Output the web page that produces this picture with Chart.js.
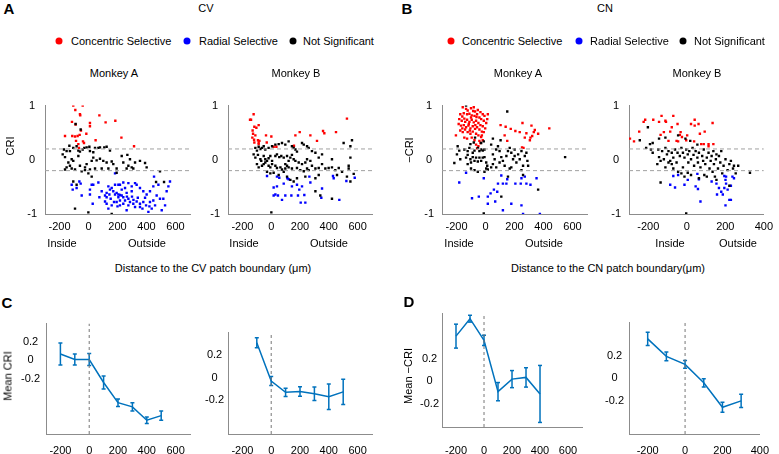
<!DOCTYPE html>
<html><head><meta charset="utf-8">
<script src="https://cdn.jsdelivr.net/npm/chart.js@4"></script>
<style>
html,body{margin:0;padding:0;background:#fff;overflow:hidden;width:779px;height:454px;}
body{position:relative;font-family:"Liberation Sans",Arial,sans-serif;font-size:11px;color:#000;}
.t{position:absolute;white-space:nowrap;line-height:1;z-index:2;}
.dot{position:absolute;width:7px;height:7px;border-radius:50%;transform:translate(-50%,-50%);}
canvas{position:absolute;display:block;z-index:1;}
</style></head><body>
<script>
// ---------------- DATA ----------------
const scatterXTicks = [-200, 0, 200, 400, 600];
const scatterXTicksCNB = [-200, 0, 200, 400];
const scatterYTicks = [-1, 0, 1];
const meanYTicks = [-0.2, 0, 0.2];
const meanXTicks = [-200, 0, 200, 400, 600];
const meanXTicksCNB = [-200, 0, 200, 400];
const thresholds = [0.2, -0.2];

// CV, Monkey A
const cvA_conc = [[-105,1.0],[-40,1.0],[-59,0.84],[-91,0.92],[-57,0.82],[75,0.82],[185,0.72],[118,0.69],[10,0.68],[-114,0.70],[-89,0.65],[10,0.62],[-52,0.54],[-15,0.48],[-61,0.46],[-162,0.44],[-112,0.44],[-93,0.43],[-75,0.44],[49,0.36],[227,0.41],[-86,0.35],[-38,0.34],[-31,0.31],[-70,0.29],[-66,0.22],[314,0.25]];
const cvA_none = [[-89,0.66],[-54,0.56],[-132,0.26],[-169,0.19],[-151,0.16],[-178,0.10],[-162,0.05],[-128,0.16],[-105,0.22],[-82,0.25],[-70,0.17],[-59,0.15],[-40,0.19],[-29,0.22],[-13,0.23],[6,0.24],[10,0.16],[33,0.14],[45,0.22],[68,0.22],[79,0.23],[109,0.23],[125,0.24],[148,0.17],[-70,0.07],[-116,0.01],[-105,-0.02],[-139,-0.05],[-128,-0.11],[-151,-0.14],[-162,-0.18],[-116,-0.16],[-93,-0.18],[-59,-0.11],[-24,-0.14],[-13,-0.08],[22,-0.02],[33,0.04],[56,-0.01],[79,0.02],[102,-0.02],[125,-0.05],[160,-0.03],[171,-0.08],[137,-0.16],[91,-0.16],[45,-0.16],[10,-0.18],[-24,-0.19],[-47,-0.21],[229,0.07],[240,-0.05],[268,0.09],[286,0.01],[275,-0.11],[298,-0.14],[321,-0.05],[355,-0.02],[390,-0.06],[401,-0.14],[309,-0.16],[493,-0.21],[263,-0.16],[194,-0.16],[-1,-0.25],[22,-0.31],[-105,-0.40],[-82,-0.46],[194,-0.24],[466,-0.41],[521,-0.41],[-93,-0.90],[-1,-0.97],[160,-1.0]];
const cvA_rad = [[-116,-0.46],[-109,-0.55],[-82,-0.52],[-54,-0.44],[-47,-0.66],[10,-0.55],[22,-0.46],[33,-0.46],[10,-0.64],[29,-0.81],[68,-0.42],[75,-0.69],[91,-0.58],[114,-0.66],[125,-0.61],[137,-0.49],[148,-0.55],[160,-0.52],[144,-0.64],[171,-0.58],[183,-0.64],[194,-0.61],[206,-0.64],[217,-0.65],[229,-0.66],[240,-0.69],[153,-0.72],[176,-0.78],[194,-0.78],[217,-0.75],[252,-0.75],[275,-0.72],[286,-0.78],[309,-0.81],[332,-0.77],[355,-0.81],[378,-0.78],[397,-0.84],[424,-0.78],[447,-0.75],[470,-0.66],[493,-0.72],[459,-0.84],[436,-0.90],[413,-0.96],[355,-0.87],[321,-0.87],[275,-0.84],[263,-0.93],[240,-0.81],[217,-0.84],[125,-0.81],[137,-0.90],[160,-0.84],[401,-0.64],[424,-0.58],[447,-0.49],[482,-0.46],[539,-0.58],[551,-0.49],[516,-0.72],[528,-0.84],[505,-0.93],[562,-0.40],[452,-0.31],[298,-0.49],[321,-0.43],[332,-0.46],[355,-0.52],[378,-0.58],[240,-0.42],[217,-0.46],[183,-0.25],[206,-0.46],[275,-0.43],[298,-0.58],[263,-0.61],[252,-0.52],[125,-0.69],[114,-0.77],[206,-0.69],[229,-0.55],[183,-0.46],[-63,-0.40],[340,-0.70],[390,-0.70],[300,-0.68],[265,-0.68],[420,-0.86],[372,-0.90],[310,-0.74],[200,-0.86]];

// CV, Monkey B
const cvB_conc = [[-122,0.84],[-140,0.74],[-147,0.74],[-117,0.61],[-103,0.59],[-87,0.64],[-129,0.54],[-126,0.48],[-110,0.45],[-131,0.41],[-119,0.37],[-92,0.36],[-87,0.32],[-82,0.35],[-31,0.32],[-36,0.45],[1,0.43],[17,0.24],[36,0.24],[158,0.26],[168,0.45],[198,0.51],[272,0.45],[318,0.35],[360,0.53],[369,0.49],[450,0.51],[526,0.76],[-117,0.32],[-87,0.29]];
const cvB_none = [[-110,0.22],[-99,0.17],[-87,0.24],[-75,0.20],[-64,0.22],[-52,0.25],[-41,0.19],[-18,0.22],[6,0.25],[29,0.28],[52,0.29],[75,0.31],[98,0.28],[121,0.34],[144,0.25],[156,0.22],[168,0.19],[179,0.15],[214,0.31],[226,0.28],[249,0.25],[260,0.22],[283,0.16],[307,0.13],[330,0.04],[353,0.10],[422,0.01],[503,0.31],[550,0.25],[561,0.36],[550,0.04],[538,-0.11],[-122,0.10],[-110,0.04],[-92,0.09],[-75,0.01],[-69,-0.02],[-52,0.07],[-41,0.01],[-29,-0.02],[-18,0.03],[-6,0.07],[6,-0.02],[29,0.07],[40,0.10],[56,0.05],[70,0.07],[87,0.04],[110,0.07],[133,0.04],[144,0.09],[156,0.01],[168,-0.02],[191,-0.05],[214,-0.08],[237,-0.05],[249,0.01],[272,-0.02],[283,-0.11],[307,-0.16],[330,-0.15],[353,-0.08],[376,-0.16],[399,-0.15],[422,-0.14],[445,-0.19],[469,-0.15],[492,-0.22],[538,-0.16],[573,-0.26],[550,-0.40],[-99,-0.08],[-87,-0.14],[-64,-0.11],[-52,-0.08],[-41,-0.05],[-18,-0.11],[-6,-0.14],[6,-0.08],[29,-0.11],[40,-0.15],[64,-0.14],[75,-0.18],[98,-0.16],[110,-0.11],[121,-0.14],[144,-0.16],[179,-0.15],[202,-0.19],[226,-0.21],[249,-0.16],[260,-0.19],[-29,-0.22],[-6,-0.25],[17,-0.24],[52,-0.28],[87,-0.22],[110,-0.31],[133,-0.37],[156,-0.40],[179,-0.34],[237,-0.31],[307,-0.34],[330,-0.28],[457,-0.28],[526,-0.31],[422,-0.72],[307,-0.58],[341,-0.66],[1,-0.97],[98,-0.08],[121,-0.02]];
const cvB_rad = [[-29,-0.30],[40,-0.31],[56,-0.33],[112,-0.34],[121,-0.36],[87,-0.44],[40,-0.49],[144,-0.49],[179,-0.46],[195,-0.55],[214,-0.49],[265,-0.31],[272,-0.42],[353,-0.53],[348,-0.70],[17,-0.51],[29,-0.64],[17,-0.66],[47,-0.66],[75,-0.74],[98,-0.66],[140,-0.66],[186,-0.66],[230,-0.65],[205,-0.79],[237,-0.79],[429,-0.30],[434,-0.34],[473,-0.74],[522,-0.39],[580,-0.33]];

// CN, Monkey A
const cnA_conc = [[-157,0.97],[-134,0.94],[-123,0.91],[-100,0.95],[-81,0.97],[-72,0.89],[-53,0.92],[-35,0.88],[-19,0.84],[-7,0.81],[-174,0.84],[-150,0.86],[-127,0.84],[-111,0.85],[-95,0.82],[-76,0.81],[-58,0.84],[-42,0.78],[-30,0.75],[-12,0.72],[5,0.68],[-181,0.75],[-164,0.72],[-146,0.76],[-127,0.74],[-111,0.70],[-95,0.74],[-81,0.69],[-65,0.72],[-49,0.68],[-35,0.64],[-19,0.62],[-2,0.58],[-185,0.66],[-169,0.63],[-150,0.64],[-134,0.60],[-118,0.63],[-104,0.58],[-88,0.62],[-72,0.57],[-58,0.60],[-42,0.56],[-25,0.52],[-12,0.51],[-174,0.54],[-157,0.51],[-141,0.56],[-123,0.51],[-104,0.48],[-88,0.52],[-65,0.48],[-49,0.45],[-30,0.42],[-146,0.41],[-127,0.39],[-95,0.41],[-76,0.36],[-42,0.35],[-19,0.36],[-65,0.28],[-49,0.25],[-35,0.31],[-58,0.21],[-25,0.45],[16,0.84],[12,0.75],[-204,0.45],[104,0.64],[139,0.61],[174,0.57],[206,0.53],[236,0.51],[255,0.68],[282,0.49],[317,0.63],[333,0.51],[340,0.55],[310,0.41],[322,0.44],[363,0.48],[440,0.58],[132,0.45],[150,0.35],[306,0.36],[262,0.22],[252,0.23],[271,0.41],[-160,0.80],[-140,0.70],[-100,0.78],[-85,0.90],[-62,0.79],[-115,0.66],[-70,0.64],[-160,0.58],[-108,0.54]];
const cnA_none = [[-134,1.0],[150,0.89],[-72,0.41],[-81,0.32],[-104,0.29],[-192,0.25],[-181,0.17],[-197,0.10],[-174,0.01],[-215,-0.06],[-146,0.19],[-123,0.16],[-111,0.22],[-88,0.13],[-76,0.17],[-53,0.22],[-42,0.16],[-30,0.19],[-19,0.17],[-7,0.19],[-123,0.09],[-134,0.04],[-104,0.01],[-88,0.05],[-76,-0.02],[-100,-0.05],[-65,0.04],[-53,-0.03],[-42,0.04],[-30,-0.02],[-19,0.04],[-7,0.05],[5,-0.05],[12,-0.11],[5,-0.16],[16,-0.18],[-7,-0.22],[-53,-0.22],[-76,-0.19],[-100,-0.16],[-123,-0.08],[39,0.28],[51,0.39],[86,0.25],[74,0.19],[97,0.16],[51,0.10],[63,0.01],[51,-0.08],[74,-0.14],[39,-0.14],[97,-0.05],[109,0.05],[120,-0.02],[132,-0.11],[144,0.07],[155,0.16],[167,0.22],[178,0.13],[190,0.01],[201,0.07],[201,0.19],[213,-0.05],[178,-0.14],[167,-0.16],[225,0.10],[236,0.01],[248,0.16],[259,-0.11],[271,0.07],[282,0.13],[289,-0.02],[248,-0.19],[294,-0.11],[549,0.05],[104,0.36],[-12,0.34],[-30,0.31],[109,-0.68],[363,-0.55],[-12,-0.99],[155,-0.31],[259,-0.28]];
const cnA_rad = [[-181,-0.42],[-134,-0.24],[-12,-0.34],[109,-0.29],[150,-0.36],[120,-0.44],[86,-0.44],[144,-0.44],[206,-0.44],[243,-0.44],[248,-0.34],[271,-0.31],[282,-0.44],[310,-0.46],[352,-0.34],[58,-0.55],[35,-0.62],[16,-0.68],[-46,-0.68],[-93,-0.71],[67,-0.77],[16,-0.81],[120,-0.93],[178,-0.81],[248,-0.84],[259,-1.0],[375,-1.0],[81,-0.59]];

// CN, Monkey B
const cnB_conc = [[-295,0.39],[-274,0.34],[-247,0.52],[-224,0.70],[-216,0.74],[-174,0.74],[-144,0.70],[-131,0.81],[-111,0.72],[-108,0.70],[-70,0.81],[-48,0.66],[-78,0.60],[-119,0.51],[-136,0.46],[-86,0.52],[-32,0.51],[-36,0.46],[-25,0.42],[-53,0.35],[-45,0.34],[2,0.45],[22,0.66],[41,0.74],[41,0.63],[61,0.66],[68,0.48],[93,0.52],[134,0.68],[38,0.34],[75,0.29],[88,0.29],[113,0.29],[138,0.29],[113,0.25],[-95,0.35],[-3,0.36]];
const cnB_none = [[-202,0.60],[-244,0.36],[-191,0.29],[-211,0.22],[-186,0.19],[-177,0.13],[-148,0.19],[-144,0.05],[-128,0.16],[-119,0.01],[-111,0.22],[-103,0.10],[-95,0.16],[-86,-0.02],[-78,0.13],[-70,0.04],[-61,0.19],[-53,-0.05],[-48,0.13],[-36,0.07],[-28,0.22],[-20,0.13],[-12,0.04],[-7,0.39],[-3,0.19],[5,0.10],[8,-0.05],[13,0.16],[22,0.01],[30,0.22],[35,0.09],[38,-0.11],[46,0.16],[55,0.04],[58,-0.05],[63,0.13],[71,-0.14],[80,0.07],[85,-0.02],[88,0.19],[96,-0.08],[104,0.04],[113,0.13],[118,-0.16],[124,-0.02],[129,0.07],[138,0.16],[141,-0.08],[151,0.01],[154,0.10],[162,-0.16],[167,0.07],[174,-0.05],[179,0.16],[184,-0.25],[191,-0.11],[201,0.01],[212,-0.19],[221,-0.08],[229,-0.02],[240,-0.16],[245,-0.11],[254,-0.25],[267,-0.11],[328,-0.24],[-153,-0.08],[-136,-0.02],[-111,-0.14],[-95,-0.05],[-78,-0.08],[-70,-0.16],[-45,-0.22],[-28,-0.25],[-20,-0.14],[-12,-0.31],[5,-0.24],[22,-0.28],[63,-0.34],[91,-0.28],[104,-0.31],[134,-0.22],[146,-0.31],[154,-0.37],[221,-0.48],[-136,-0.42],[-3,-0.99],[-177,0.31],[-144,0.39],[-111,0.41],[-45,0.45],[18,0.35],[55,0.28]];
const cnB_rad = [[-70,-0.30],[-45,-0.28],[5,-0.37],[55,-0.26],[63,-0.36],[-86,-0.46],[-61,-0.51],[-12,-0.46],[46,-0.49],[58,-0.54],[71,-0.77],[129,-0.40],[154,-0.44],[167,-0.52],[157,-0.64],[179,-0.59],[187,-0.64],[195,-0.52],[204,-0.44],[201,-0.37],[212,-0.55],[229,-0.48],[237,-0.31],[245,-0.34],[221,-0.74],[229,-0.74],[201,-0.84],[195,-0.30],[204,-0.31]];

// Mean CRI (C) and Mean -CRI (D)
const cvA_dist = [-200, -100, 0, 100, 200, 300, 400, 500];
const cvA_mean = [0.07, 0.01, 0.01, -0.24, -0.46, -0.505, -0.65, -0.60];
const cvA_err  = [0.12, 0.06, 0.065, 0.07, 0.04, 0.045, 0.035, 0.05];
const cvB_dist = [-100, 0, 100, 200, 300, 400, 500];
const cvB_mean = [0.31, -0.03, -0.13, -0.123, -0.143, -0.17, -0.126];
const cvB_err  = [0.045, 0.04, 0.037, 0.043, 0.06, 0.113, 0.113];
const cnA_dist = [-200, -100, 0, 100, 200, 300, 400];
const cnA_mean = [0.397, 0.55, 0.36, -0.09, 0.02, 0.035, -0.11];
const cnA_err  = [0.105, 0.03, 0.045, 0.08, 0.075, 0.085, 0.25];
const cnB_dist = [-200, -100, 0, 100, 200, 300];
const cnB_mean = [0.354, 0.197, 0.125, -0.04, -0.26, -0.203];
const cnB_err  = [0.06, 0.04, 0.034, 0.037, 0.045, 0.06];

// ---------------- RENDER ----------------
Chart.defaults.font.family = '"Liberation Sans", Arial, sans-serif';
Chart.defaults.font.size = 11;
Chart.defaults.color = '#000';
Chart.defaults.animation = false;

const AXIS = '#8c8c8c';
const BLUE = '#0072BD';

function pts(a){ return a.map(p => ({x:p[0], y:p[1]})); }

function makeChart(p){
  const yW = 40, tPad = 10, xH = 34;
  const [L,T,R,B] = p.plot;
  const rPad = Math.min(8, 779 - R);
  const cv = document.createElement('canvas');
  const w = yW + (R-L) + rPad, h = tPad + (B-T) + xH;
  cv.width = w; cv.height = h;
  cv.style.left = (L-yW)+'px'; cv.style.top = (T-tPad)+'px';
  cv.style.width = w+'px'; cv.style.height = h+'px';
  document.body.appendChild(cv);
  new Chart(cv, {
    type:'scatter',
    data:{datasets:p.datasets},
    options:{
      responsive:false, animation:false, events:[],
      layout:{autoPadding:false, padding:{left:0, top:tPad, right:rPad, bottom:0}},
      plugins:{legend:{display:false}, tooltip:{enabled:false}},
      scales:{
        x:{type:'linear', min:p.xmin, max:p.xmax,
           afterBuildTicks:a=>{a.ticks = p.xTicks.map(v=>({value:v}));},
           afterFit:s=>{s.height = xH;},
           grid:{display:true, drawOnChartArea:false, drawTicks:false},
           border:{color:AXIS, width:1},
           ticks:{padding:p.xPad, maxRotation:0, autoSkip:false, callback:v=>String(v)}},
        y:{type:'linear', min:p.ymin, max:p.ymax,
           afterBuildTicks:a=>{a.ticks = p.yTicks.map(v=>({value:v}));},
           afterFit:s=>{s.width = yW;},
           grid:{display:true, drawOnChartArea:false, drawTicks:false},
           border:{color:AXIS, width:1},
           ticks:{padding:p.yPad, crossAlign:'center', autoSkip:false, callback:v=>String(v)}}
      }
    }
  });
}

function scatterSets(conc, rad, none, xmin, xmax){
  const ds = thresholds.map(t => ({type:'line', data:[{x:xmin,y:t},{x:xmax,y:t}],
      borderColor:'#a0a0a0', borderWidth:1, borderDash:[4,3], pointRadius:0}));
  const mk = (a,c) => ({data:pts(a), backgroundColor:c, borderWidth:0, pointStyle:'rect', pointRadius:1.7});
  ds.push(mk(none,'#000'), mk(rad,'#0000ff'), mk(conc,'#ff0000'));
  return ds;
}

function meanSets(dist, mean, err, ymin, ymax){
  const ds = [{type:'line', data:[{x:0,y:ymin},{x:0,y:ymax}], borderColor:'#777', borderWidth:1, borderDash:[3,3], pointRadius:0}];
  dist.forEach((d,i) => ds.push({type:'line', data:[{x:d,y:mean[i]-err[i]},{x:d,y:mean[i]+err[i]}],
     borderColor:BLUE, borderWidth:1.5, pointStyle:'line', pointRadius:2, pointBorderWidth:1.5, pointBorderColor:BLUE}));
  ds.push({type:'line', data:dist.map((d,i)=>({x:d,y:mean[i]})), borderColor:BLUE, borderWidth:1.5, pointRadius:0, tension:0});
  return ds;
}

// Scatter panels
makeChart({plot:[45,101,190,214], xmin:-300, xmax:700, ymin:-1, ymax:1, xTicks:scatterXTicks, yTicks:scatterYTicks, xPad:6, yPad:8,
  datasets:scatterSets(cvA_conc, cvA_rad, cvA_none, -300, 700)});
makeChart({plot:[228,101,372,214], xmin:-300, xmax:700, ymin:-1, ymax:1, xTicks:scatterXTicks, yTicks:scatterYTicks, xPad:6, yPad:8,
  datasets:scatterSets(cvB_conc, cvB_rad, cvB_none, -300, 700)});
makeChart({plot:[442,101,587,214], xmin:-300, xmax:700, ymin:-1, ymax:1, xTicks:scatterXTicks, yTicks:scatterYTicks, xPad:6, yPad:8,
  datasets:scatterSets(cnA_conc, cnA_rad, cnA_none, -300, 700)});
makeChart({plot:[629,101,772,214], xmin:-300, xmax:400, ymin:-1, ymax:1, xTicks:scatterXTicksCNB, yTicks:scatterYTicks, xPad:6, yPad:8,
  datasets:scatterSets(cnB_conc, cnB_rad, cnB_none, -300, 400)});

// Mean panels
makeChart({plot:[46,321,190,434], xmin:-300, xmax:700, ymin:-0.8, ymax:0.4, xTicks:meanXTicks, yTicks:meanYTicks, xPad:10, yPad:6,
  datasets:meanSets(cvA_dist, cvA_mean, cvA_err, -0.8, 0.4)});
makeChart({plot:[228,332,372,434], xmin:-300, xmax:700, ymin:-0.5, ymax:0.4, xTicks:meanXTicks, yTicks:meanYTicks, xPad:10, yPad:4,
  datasets:meanSets(cvB_dist, cvB_mean, cvB_err, -0.5, 0.4)});
makeChart({plot:[442,313,587,427], xmin:-300, xmax:700, ymin:-0.4, ymax:0.6, xTicks:meanXTicks, yTicks:meanYTicks, xPad:17, yPad:3,
  datasets:meanSets(cnA_dist, cnA_mean, cnA_err, -0.4, 0.6)});
makeChart({plot:[629,321,772,434], xmin:-300, xmax:400, ymin:-0.5, ymax:0.5, xTicks:meanXTicksCNB, yTicks:meanYTicks, xPad:10, yPad:5,
  datasets:meanSets(cnB_dist, cnB_mean, cnB_err, -0.5, 0.5)});

// ---------------- TEXT ----------------
function txt(s, x, y, o){
  o = o || {};
  const d = document.createElement('div'); d.className='t'; d.textContent = s;
  d.style.left = x+'px'; d.style.top = y+'px';
  d.style.transform = (o.left ? 'translate(0,-50%)' : 'translate(-50%,-50%)') + (o.rot ? ' rotate(-90deg)' : '');
  if (o.size) d.style.fontSize = o.size+'px';
  if (o.bold) d.style.fontWeight = 'bold';
  document.body.appendChild(d);
}
function dot(x, y, c){
  const d = document.createElement('div'); d.className='dot'; d.style.left=x+'px'; d.style.top=y+'px'; d.style.background=c;
  document.body.appendChild(d);
}
txt('A', 9, 8, {bold:true, size:15});
txt('B', 407, 8, {bold:true, size:15});
txt('C', 7, 302, {bold:true, size:15});
txt('D', 409, 301, {bold:true, size:15});
txt('CV', 206, 8);
txt('CN', 605, 8);
[[59,71,'#ff0000','Concentric Selective'],[187,199,'#0000ff','Radial Selective'],[293,303,'#000','Not Significant'],
 [451,462,'#ff0000','Concentric Selective'],[579,590,'#0000ff','Radial Selective'],[683,694,'#000','Not Significant']]
 .forEach(l => { dot(l[0], 41, l[2]); txt(l[3], l[1], 41, {left:true}); });
txt('Monkey A', 114, 73); txt('Monkey B', 296, 73);
txt('Monkey A', 518, 73); txt('Monkey B', 697, 73);
txt('CRI', 10, 146, {rot:true});
txt('\u2212CRI', 409, 150, {rot:true});
txt('Inside', 62, 243); txt('Outside', 147, 243);
txt('Inside', 244, 243); txt('Outside', 329, 243);
txt('Inside', 459, 243); txt('Outside', 544, 243);
txt('Inside', 670, 243); txt('Outside', 738, 243);
txt('Distance to the CV patch boundary (\u03bcm)', 213, 268);
txt('Distance to the CN patch boundary(\u03bcm)', 608, 268);
txt('Mean CRI', 8, 376, {rot:true});
txt('Mean \u2212CRI', 408, 376, {rot:true});
</script>
</body></html>
